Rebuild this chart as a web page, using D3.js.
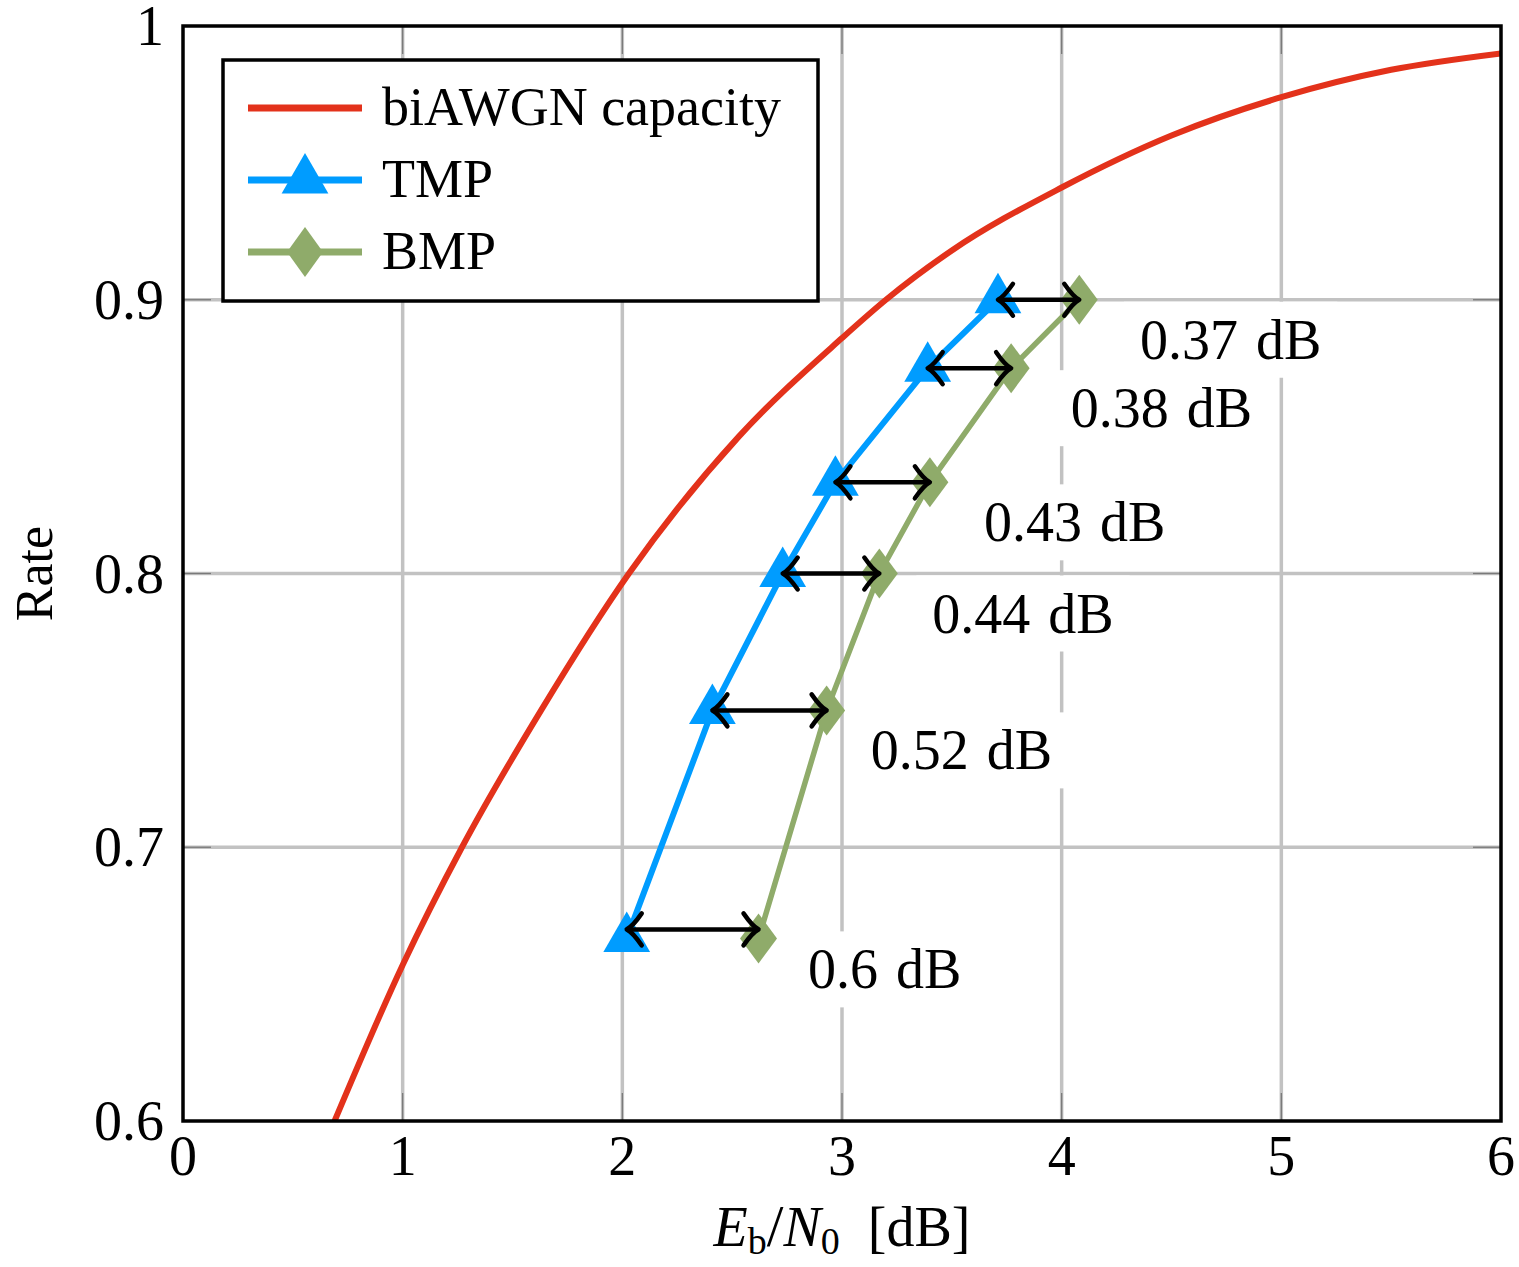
<!DOCTYPE html>
<html>
<head>
<meta charset="utf-8">
<script src="https://cdn.jsdelivr.net/npm/d3@7"></script>
<style>
  html, body { margin: 0; padding: 0; background: #fff; }
  svg { display: block; }
  text { font-family: "Liberation Serif", "Times New Roman", serif; fill: #000; }
</style>
</head>
<body>
<svg id="chart" width="1519" height="1267"></svg>
<script>
// Axis ticks
const xTicks = [0, 1, 2, 3, 4, 5, 6];
const yTicks = [0.6, 0.7, 0.8, 0.9, 1];
const yTickLabels = ["0.6", "0.7", "0.8", "0.9", "1"];

// biAWGN capacity curve: Eb/N0 [dB] vs. rate
const capacityEbN0 = [0.69, 1.0, 1.27, 1.63, 2.03, 2.53, 3.0, 3.2, 3.5, 4.0, 4.5, 5.0, 5.5, 6.0];
const capacityRate = [0.600, 0.657, 0.700, 0.750, 0.800, 0.850, 0.886, 0.900, 0.918, 0.941, 0.960, 0.974, 0.984, 0.990];

// Code rates and required Eb/N0 for the two decoders
const codeRates = [0.9, 0.875, 0.8333, 0.8, 0.75, 0.6667];
const tmpEbN0 = [3.71, 3.39, 2.97, 2.73, 2.41, 2.02];
const bmpEbN0 = [4.08, 3.77, 3.40, 3.17, 2.93, 2.62];

// Gap annotations
const gapRates = [0.9, 0.875, 0.8333, 0.8, 0.75, 0.67];
const gapLabels = ["0.37 dB", "0.38 dB", "0.43 dB", "0.44 dB", "0.52 dB", "0.6 dB"];

// Legend
const legendNames = ["biAWGN capacity", "TMP", "BMP"];

const COLORS = { cap: "#e3321b", tmp: "#009cff", bmp: "#8fab6a", grid: "#c2c2c2" };

const svg = d3.select("#chart");
const M = { left: 183, right: 1501, top: 26, bottom: 1121 };

const x = d3.scaleLinear().domain([0, 6]).range([M.left, M.right]);
const y = d3.scaleLinear().domain([0.6, 1]).range([M.bottom, M.top]);

svg.append("defs").append("clipPath").attr("id", "plot-clip")
  .append("rect").attr("x", M.left).attr("y", M.top)
  .attr("width", M.right - M.left).attr("height", M.bottom - M.top);

// Grid
const grid = svg.append("g");
grid.selectAll("line.vx").data(xTicks.slice(1, -1)).join("line")
  .attr("x1", d => x(d)).attr("x2", d => x(d))
  .attr("y1", M.top).attr("y2", M.bottom)
  .attr("stroke", COLORS.grid).attr("stroke-width", 3.5);
grid.selectAll("line.hy").data(yTicks.slice(1, -1)).join("line")
  .attr("y1", d => y(d)).attr("y2", d => y(d))
  .attr("x1", M.left).attr("x2", M.right)
  .attr("stroke", COLORS.grid).attr("stroke-width", 3.5);

// Tick marks (inside, on all four sides)
const tickLen = 28;
const ticks = svg.append("g").attr("stroke", "#7a7a7a").attr("stroke-width", 1.3);
xTicks.slice(1, -1).forEach(t => {
  ticks.append("line").attr("x1", x(t)).attr("x2", x(t)).attr("y1", M.bottom).attr("y2", M.bottom - tickLen);
  ticks.append("line").attr("x1", x(t)).attr("x2", x(t)).attr("y1", M.top).attr("y2", M.top + tickLen);
});
yTicks.slice(1, -1).forEach(t => {
  ticks.append("line").attr("y1", y(t)).attr("y2", y(t)).attr("x1", M.left).attr("x2", M.left + tickLen);
  ticks.append("line").attr("y1", y(t)).attr("y2", y(t)).attr("x1", M.right).attr("x2", M.right - tickLen);
});

// Annotation labels with white boxes that cut the grid
const labelFont = 56;
const annot = svg.append("g");
const labelPos = gapRates.map((r, i) => ({
  cx: (x(tmpEbN0[i]) + x(bmpEbN0[i])) / 2 + 192,
  cy: y(r) + 40,
  text: gapLabels[i]
}));
const labelTexts = annot.selectAll("text").data(labelPos).join("text")
  .attr("x", d => d.cx).attr("y", d => d.cy + 19)
  .attr("text-anchor", "middle")
  .attr("font-size", labelFont)
  .attr("word-spacing", 4)
  .text(d => d.text);
labelTexts.each(function () {
  const bb = this.getBBox();
  const d = d3.select(this).datum();
  annot.insert("rect", "text")
    .attr("x", bb.x - 16).attr("width", bb.width + 32)
    .attr("y", d.cy - 38).attr("height", 76)
    .attr("fill", "#fff");
});

const plot = svg.append("g").attr("clip-path", "url(#plot-clip)");

// Capacity curve
const capData = capacityEbN0.map((e, i) => [e, capacityRate[i]]);
plot.append("path").datum(capData)
  .attr("d", d3.line().x(d => x(d[0])).y(d => y(d[1])).curve(d3.curveMonotoneX))
  .attr("fill", "none").attr("stroke", COLORS.cap).attr("stroke-width", 6);

// Markers
const triSize = 27;   // circumradius
const triPath = r => `M0,${-r} L${r * Math.sqrt(3) / 2},${r / 2} L${-r * Math.sqrt(3) / 2},${r / 2} Z`;
const diaPath = (w, h) => `M0,${-h / 2} L${w / 2},0 L0,${h / 2} L${-w / 2},0 Z`;

// TMP series
const tmpData = tmpEbN0.map((e, i) => [e, codeRates[i]]);
svg.append("path").datum(tmpData)
  .attr("d", d3.line().x(d => x(d[0])).y(d => y(d[1])))
  .attr("fill", "none").attr("stroke", COLORS.tmp).attr("stroke-width", 6)
  .attr("stroke-linejoin", "round");
svg.append("g").selectAll("path").data(tmpData).join("path")
  .attr("transform", d => `translate(${x(d[0])},${y(d[1])})`)
  .attr("d", triPath(triSize)).attr("fill", COLORS.tmp);

// BMP series
const bmpData = bmpEbN0.map((e, i) => [e, codeRates[i]]);
svg.append("path").datum(bmpData)
  .attr("d", d3.line().x(d => x(d[0])).y(d => y(d[1])))
  .attr("fill", "none").attr("stroke", COLORS.bmp).attr("stroke-width", 5.5)
  .attr("stroke-linejoin", "round");
svg.append("g").selectAll("path").data(bmpData).join("path")
  .attr("transform", d => `translate(${x(d[0])},${y(d[1])})`)
  .attr("d", diaPath(37, 50)).attr("fill", COLORS.bmp);

// Double-headed gap arrows
const arrows = svg.append("g").attr("fill", "none").attr("stroke", "#000")
  .attr("stroke-width", 4.5).attr("stroke-linecap", "round").attr("stroke-linejoin", "round");
gapRates.forEach((r, i) => {
  const x0 = x(tmpEbN0[i]), x1 = x(bmpEbN0[i]), yy = y(r);
  arrows.append("line").attr("x1", x0 + 1).attr("x2", x1 - 1).attr("y1", yy).attr("y2", yy);
  arrows.append("path").attr("d",
    `M${x1 - 15},${yy - 16} Q${x1 - 6},${yy - 3} ${x1},${yy} Q${x1 - 6},${yy + 3} ${x1 - 15},${yy + 16}`);
  arrows.append("path").attr("d",
    `M${x0 + 15},${yy - 16} Q${x0 + 6},${yy - 3} ${x0},${yy} Q${x0 + 6},${yy + 3} ${x0 + 15},${yy + 16}`);
});

// Frame
svg.append("rect").attr("x", M.left).attr("y", M.top)
  .attr("width", M.right - M.left).attr("height", M.bottom - M.top)
  .attr("fill", "none").attr("stroke", "#000").attr("stroke-width", 3.5);

// Tick labels
const tickFont = 56;
svg.append("g").selectAll("text").data(xTicks).join("text")
  .attr("x", d => x(d)).attr("y", M.bottom + 54)
  .attr("text-anchor", "middle").attr("font-size", tickFont)
  .text(d => d);
svg.append("g").selectAll("text").data(yTicks).join("text")
  .attr("x", M.left - 19).attr("y", d => y(d) + 19)
  .attr("text-anchor", "end")
  .attr("font-size", tickFont)
  .text((d, i) => yTickLabels[i]);

// Axis labels
svg.append("text")
  .attr("transform", `translate(52,${(M.top + M.bottom) / 2}) rotate(-90)`)
  .attr("text-anchor", "middle").attr("font-size", 52)
  .text("Rate");

const xl = svg.append("text")
  .attr("x", (M.left + M.right) / 2).attr("y", 1246)
  .attr("text-anchor", "middle").attr("font-size", 56);
xl.append("tspan").attr("font-style", "italic").text("E");
xl.append("tspan").attr("font-size", 38).attr("dy", 8).text("b");
xl.append("tspan").attr("dy", -8).attr("font-size", 60).text("/");
xl.append("tspan").attr("font-style", "italic").text("N");
xl.append("tspan").attr("font-size", 38).attr("dy", 8).text("0");
xl.append("tspan").attr("dy", -8).text("\u2002[dB]");

// Legend
const lg = svg.append("g");
lg.append("rect").attr("x", 223).attr("y", 60).attr("width", 595).attr("height", 241)
  .attr("fill", "#fff").attr("stroke", "#000").attr("stroke-width", 3.5);
const legendColors = [COLORS.cap, COLORS.tmp, COLORS.bmp];
legendNames.forEach((name, i) => {
  const yy = 108 + i * 72;
  lg.append("line").attr("x1", 248).attr("x2", 362).attr("y1", yy).attr("y2", yy)
    .attr("stroke", legendColors[i]).attr("stroke-width", 7);
  if (i === 1) lg.append("path").attr("transform", `translate(305,${yy})`).attr("d", triPath(triSize)).attr("fill", COLORS.tmp);
  if (i === 2) lg.append("path").attr("transform", `translate(305,${yy})`).attr("d", diaPath(36, 50)).attr("fill", COLORS.bmp);
  lg.append("text").attr("x", 382).attr("y", yy + 17).attr("font-size", 54).text(name);
});
</script>
</body>
</html>
